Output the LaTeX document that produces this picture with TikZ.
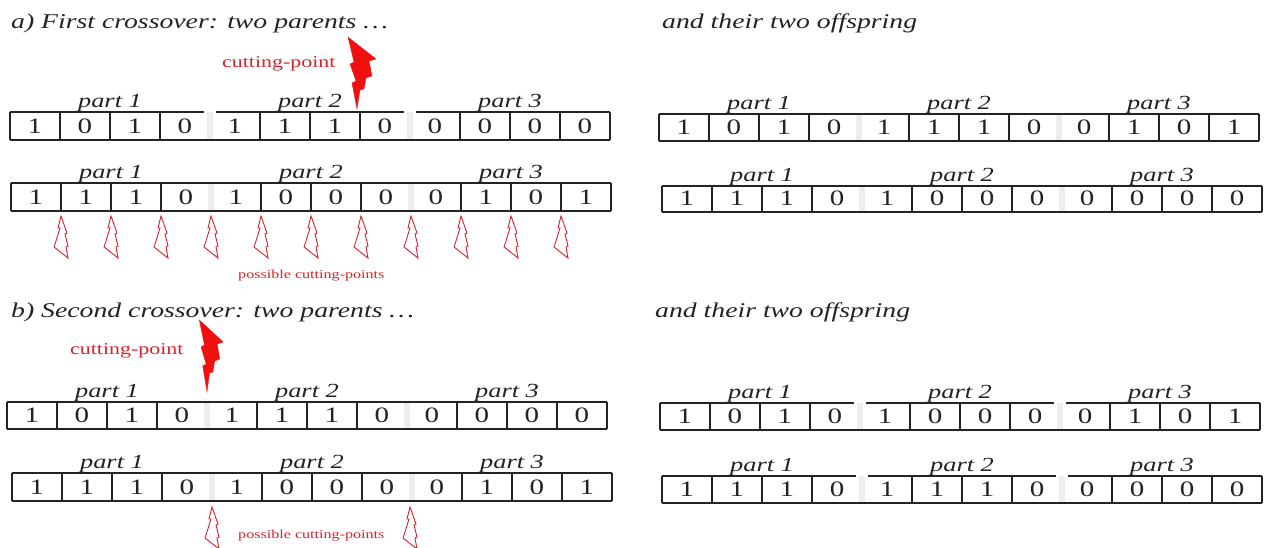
\documentclass[tikz,border=0pt]{standalone}
\usepackage{fontspec}
\setmainfont{Liberation Serif}
\usepackage{graphicx}
\definecolor{boltred}{RGB}{240,16,16}
\definecolor{txtred}{RGB}{215,35,45}
\definecolor{ink}{RGB}{35,35,35}
\newcommand{\wid}[1]{\scalebox{1.32}[1]{#1}}
% chromosome: name, x0, top, bottom, values, broken top (1/0)
\newcommand{\chromo}[6]{%
  \foreach \k in {4,8} \fill[gapmark] ({#2+50*\k-3},#3) rectangle ({#2+50*\k+3},#4);
  \draw[cellline] (#2,#4) -- ({#2+600},#4);
  \ifnum#6=1
    \draw[cellline] (#2,#3) -- ({#2+194},#3);
    \draw[cellline] ({#2+206},#3) -- ({#2+394},#3);
    \draw[cellline] ({#2+406},#3) -- ({#2+600},#3);
  \else
    \draw[cellline] (#2,#3) -- ({#2+600},#3);
  \fi
  \foreach \k in {0,1,2,3,5,6,7,9,10,11,12} \draw[cellline] ({#2+50*\k},#3) -- ({#2+50*\k},#4);
  \foreach \v [count=\i] in {#5} \node[bit] (#1c\i) at ({#2+50*\i-25},{#4-6.5}) {\wid{\v}};
  \node[partlbl] (#1p1) at ({#2+100},{#3-5}) {\wid{part 1}};
  \node[partlbl] (#1p2) at ({#2+300},{#3-5}) {\wid{part 2}};
  \node[partlbl] (#1p3) at ({#2+500},{#3-5}) {\wid{part 3}};
}
\newcommand{\bigbolt}[3]{%
  \begin{scope}[shift={(#1,#2)}, xscale=#3]
    \filldraw[fullbolt] (0,0) -- (-5,-26) -- (-1,-28) -- (-7,-45) -- (-3,-47) -- (-9,-72)
      -- (19,-50) -- (12,-48) -- (15,-33) -- (9,-31) -- (7,-20) -- (3,-19) -- cycle;
  \end{scope}}
\newcommand{\smallbolt}[2]{%
  \begin{scope}[shift={(#1,#2)}]
    \draw[hollowbolt] (0,0) -- (-3,12) -- (-1,12) -- (-5,25) -- (-7,31) -- (7,42)
      -- (5,31) -- (7,30) -- (4,18) -- (6,17) -- cycle;
  \end{scope}}
\begin{document}
\begin{tikzpicture}[x=1pt,y=-1pt,
  title/.style={anchor=base west, inner sep=0, text=ink, font=\fontsize{21}{24}\selectfont\itshape},
  partlbl/.style={anchor=base, inner sep=0, text=ink, font=\fontsize{20}{24}\selectfont\itshape},
  bit/.style={anchor=base, inner sep=0, text=ink, font=\fontsize{22}{24}\selectfont},
  redlbl/.style={anchor=base west, inner sep=0, text=txtred, font=\fontsize{16.6}{20}\selectfont},
  smallred/.style={anchor=base west, inner sep=0, text=txtred, font=\fontsize{12.2}{14}\selectfont},
  cellline/.style={draw=ink, line width=1.2pt},
  gapmark/.style={fill=gray!14, draw=none},
  fullbolt/.style={fill=boltred, draw=boltred, line width=0.3pt, line join=miter},
  hollowbolt/.style={draw=txtred, line width=0.9pt, fill=white, line join=miter},
]
\useasboundingbox (0,0) rectangle (1269,547);
\fill[white] (0,0) rectangle (1269,547);

% titles
\node[title] (ta) at (11,28) {\wid{a) First crossover: two parents \dots}};
\node[title] (tao) at (662,28) {\wid{and their two offspring}};
\node[title] (tb) at (11,317) {\wid{b) Second crossover: two parents \dots}};
\node[title] (tbo) at (655,317) {\wid{and their two offspring}};

% section a
\chromo{ap1}{10}{112}{140}{1,0,1,0,1,1,1,0,0,0,0,0}{1}
\chromo{ap2}{11}{183}{211}{1,1,1,0,1,0,0,0,0,1,0,1}{0}
\chromo{ao1}{659}{114}{141}{1,0,1,0,1,1,1,0,0,1,0,1}{0}
\chromo{ao2}{662}{186}{212}{1,1,1,0,1,0,0,0,0,0,0,0}{0}
\bigbolt{357}{109}{1}
\node[redlbl] (cpa) at (222,67) {\wid{cutting-point}};
\foreach \k in {1,...,11} \smallbolt{11+50*\k}{216};
\node[smallred] (pca) at (238,278) {\wid{possible cutting-points}};

% section b
\chromo{bp1}{7}{402}{429}{1,0,1,0,1,1,1,0,0,0,0,0}{0}
\chromo{bp2}{12}{473}{501}{1,1,1,0,1,0,0,0,0,1,0,1}{0}
\chromo{bo1}{660}{403}{430}{1,0,1,0,1,0,0,0,0,1,0,1}{1}
\chromo{bo2}{662}{476}{503}{1,1,1,0,1,1,1,0,0,0,0,0}{1}
\bigbolt{207}{392}{0.85}
\node[redlbl] (cpb) at (70,354) {\wid{cutting-point}};
\smallbolt{212}{507}
\smallbolt{410}{507}
\node[smallred] (pcb) at (238,538) {\wid{possible cutting-points}};
\end{tikzpicture}
\end{document}
